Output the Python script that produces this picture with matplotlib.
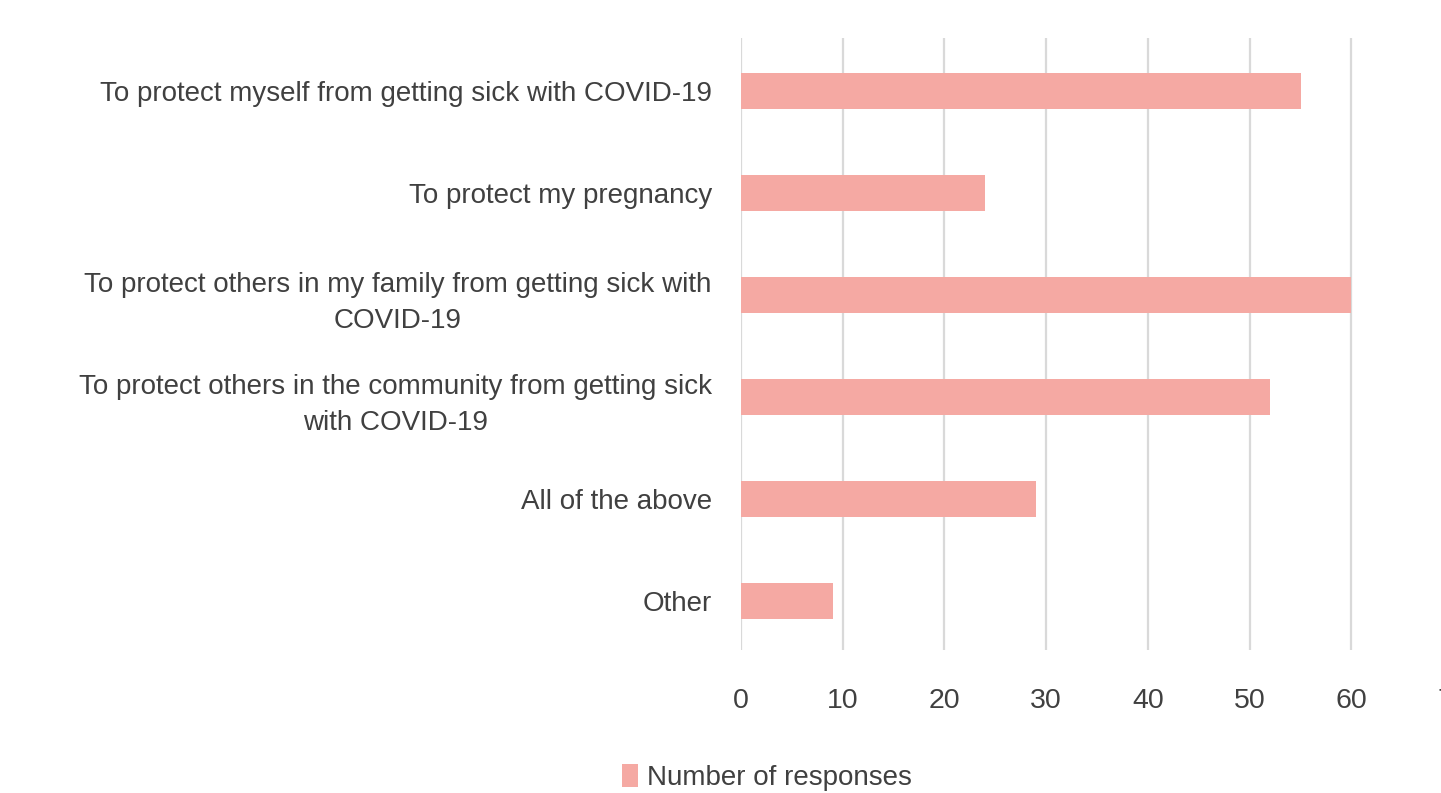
import matplotlib
matplotlib.use("Agg")
import matplotlib.pyplot as plt

# reasons given for getting vaccinated
categories = [
    "To protect myself from getting sick with COVID-19",
    "To protect my pregnancy",
    "To protect others in my family from getting sick with\nCOVID-19",
    "To protect others in the community from getting sick\nwith COVID-19",
    "All of the above",
    "Other",
]
responses = [55, 24, 60, 52, 29, 9]
xticks = [0, 10, 20, 30, 40, 50, 60, 70]

bar_color = '#F5A9A3'
text_color = '#404040'

plt.rcParams['font.family'] = ['Liberation Sans Narrow', 'Liberation Sans', 'DejaVu Sans']

fig = plt.figure(figsize=(14.41, 7.93), dpi=100)
ax = fig.add_axes([0.5142, 0.180, 0.4943, 0.772])

y = list(range(len(categories)))
ax.barh(y, responses, height=0.35, color=bar_color, label='Number of responses', zorder=3)

ax.set_xlim(0, 70)
ax.set_ylim(5.48, -0.52)
ax.set_xticks(xticks)
ax.set_xticklabels([str(t) for t in xticks], fontsize=20.5, color=text_color)
ax.set_yticks(y)
ax.set_yticklabels(categories, fontsize=20, color=text_color, ha='right',
                   multialignment='center', linespacing=1.5)
ax.tick_params(axis='x', length=0, pad=27)
ax.tick_params(axis='y', length=0, pad=21)

ax.grid(axis='x', color='#D9D9D9', linewidth=1.6, zorder=0)
ax.grid(axis='y', visible=False)
for s in ax.spines.values():
    s.set_visible(False)

leg = fig.legend(loc='center', bbox_to_anchor=(0.532, 0.02), frameon=False,
                 fontsize=20, handlelength=0.6, handleheight=0.9, handletextpad=0.3)
for t in leg.get_texts():
    t.set_color(text_color)

fig.savefig('out.png', dpi=100)
